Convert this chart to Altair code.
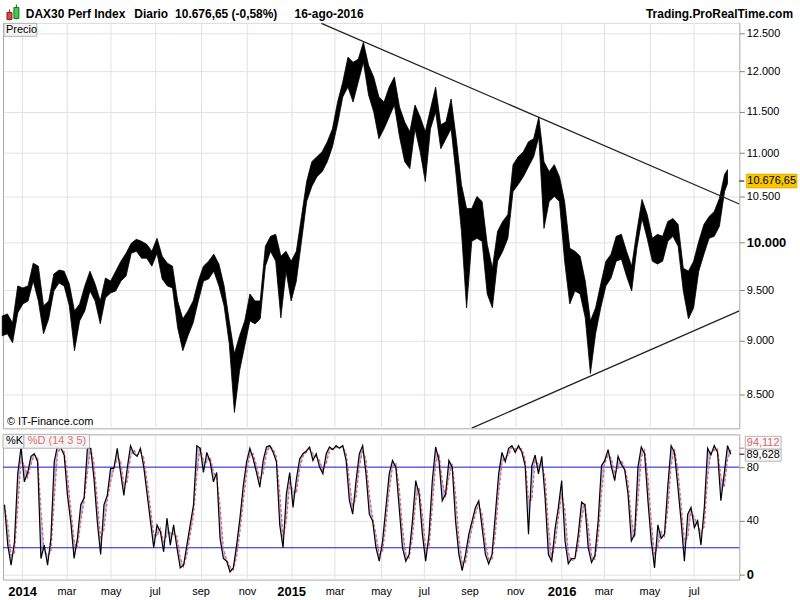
import altair as alt
import pandas as pd

# ---------------- data ----------------
week_dates = [d.strftime("%Y-%m-%dT00:00") for d in pd.date_range("2013-12-06", periods=141, freq="7D")] + ["2016-08-16T00:00"]

price_high = [
    9244, 9264, 9176, 9545, 9525, 9545, 9780, 9749, 9344, 9393,
    9667, 9708, 9697, 9565, 9294, 9363, 9545, 9697, 9565, 9393,
    9626, 9595, 9697, 9801, 9884, 9990, 10032, 10011, 9979, 9905,
    10043, 9853, 9780, 9749, 9393, 9215, 9294, 9393, 9595, 9749,
    9801, 9874, 9770, 9545, 9195, 8879, 9050, 9195, 9464, 9393,
    9393, 9958, 10064, 10086, 9853, 9905, 9801, 9905, 10280, 10670,
    10900, 10958, 11016, 11134, 11289, 11617, 11867, 12186, 12121, 12160,
    12382, 12082, 11930, 11680, 11617, 11804, 11930, 11555, 11373, 11253,
    11580, 11433, 11253, 11531, 11804, 11337, 11373, 11655, 11170, 10636,
    10368, 10368, 10502, 10446, 9979, 9728, 10118, 10226, 10302, 10865,
    10958, 11016, 11134, 11170, 11433, 10900, 10784, 10865, 10727, 10446,
    9937, 9905, 9853, 9595, 9195, 9324, 9565, 9801, 9874, 10064,
    10086, 9905, 9749, 10118, 10469, 10302, 10043, 10086, 10064, 10226,
    10258, 10193, 9728, 9697, 9801, 10011, 10193, 10280, 10335, 10480,
    10750, 10807,
]
price_low = [
    9050, 9069, 8983, 9274, 9363, 9393, 9595, 9393, 9069, 9215,
    9494, 9575, 9545, 9344, 8907, 9195, 9294, 9494, 9393, 9166,
    9424, 9474, 9494, 9595, 9646, 9884, 9905, 9832, 9832, 9749,
    9884, 9616, 9545, 9525, 9127, 8907, 9050, 9176, 9393, 9595,
    9616, 9697, 9545, 9344, 8973, 8339, 8719, 8954, 9195, 9166,
    9215, 9749, 9905, 9801, 9225, 9697, 9393, 9595, 10011, 10446,
    10614, 10727, 10784, 10900, 11075, 11349, 11680, 11804, 11617, 11867,
    12121, 11705, 11494, 11170, 11289, 11433, 11580, 11193, 10900, 10819,
    11289, 11016, 10670, 11289, 11494, 11051, 11170, 11289, 10727, 10118,
    9324, 10011, 10043, 10011, 9464, 9324, 9801, 9905, 10043, 10558,
    10636, 10727, 10842, 10958, 11193, 10150, 10446, 10502, 10446, 9801,
    9363, 9494, 9464, 9225, 8692, 9069, 9324, 9545, 9626, 9801,
    9822, 9646, 9494, 9937, 10258, 10043, 9801, 9770, 9801, 10011,
    10064, 9958, 9494, 9215, 9324, 9697, 9874, 10043, 10064, 10172,
    10558, 10648,
]

osc_dates = [d.strftime("%Y-%m-%dT%H:%M") for d in pd.date_range("2013-12-09", periods=220, freq="108h")]
stoch_k = [
    52, 22, 7, 24, 75, 95, 69, 76, 88, 90,
    84, 12, 22, 7, 27, 84, 96, 94, 89, 59,
    39, 12, 27, 52, 57, 94, 94, 71, 39, 15,
    52, 59, 79, 79, 94, 76, 59, 79, 96, 90,
    88, 94, 80, 60, 40, 20, 37, 32, 17, 42,
    22, 37, 20, 5, 7, 22, 37, 52, 96, 94,
    76, 91, 84, 69, 76, 27, 12, 10, 2, 5,
    22, 42, 66, 84, 94, 86, 76, 65, 85, 95,
    96, 91, 84, 37, 20, 60, 76, 50, 71, 86,
    90, 92, 95, 85, 90, 80, 75, 90, 95, 93,
    96, 94, 96, 85, 55, 45, 70, 90, 96, 75,
    45, 40, 20, 10, 25, 50, 75, 85, 80, 50,
    20, 10, 15, 40, 70, 60, 30, 10, 30, 70,
    95, 85, 55, 60, 85, 80, 40, 15, 3, 15,
    30, 40, 50, 55, 35, 15, 8, 15, 45, 75,
    91, 84, 94, 96, 91, 96, 91, 81, 30, 81,
    89, 75, 88, 57, 15, 10, 34, 50, 70, 25,
    8, 12, 12, 30, 54, 52, 20, 9, 14, 40,
    81, 85, 93, 80, 70, 88, 82, 78, 60, 25,
    30, 80, 95, 90, 55, 25, 5, 37, 27, 30,
    66, 96, 91, 66, 40, 10, 45, 50, 35, 40,
    22, 50, 94, 89, 96, 91, 55, 75, 96, 89.628,
]

last_close = 10676.65
last_close_label = "10.676,65"
last_k = 89.628
last_d = 94.112

trend_line = ["upper", "upper", "lower", "lower"]
trend_dates = ["2015-02-12T00:00", "2016-09-01T00:00", "2015-09-04T00:00", "2016-09-01T00:00"]
trend_price = [12635, 10418, 8200, 9294]

price_ticks = [8500, 9000, 9500, 10000, 10500, 11000, 11500, 12000, 12500]
osc_ticks = [0, 20, 40, 60, 80, 100]
osc_levels = [20, 80]
tick_days = [(2014, 1, 2), (2014, 3, 3), (2014, 5, 2), (2014, 7, 1), (2014, 9, 1), (2014, 11, 3),
             (2015, 1, 2), (2015, 3, 2), (2015, 5, 4), (2015, 7, 1), (2015, 9, 1), (2015, 11, 2),
             (2016, 1, 4), (2016, 3, 1), (2016, 5, 2), (2016, 7, 1)]

# ---------------- chart ----------------
FONT = "Liberation Sans"
GRID = "#e2e2e2"
W = 740
H_MAIN = 408
H_OSC = 146

month_ticks = [alt.DateTime(year=y, month=m, date=d) for (y, m, d) in tick_days]
x_scale = alt.Scale(domain=[alt.DateTime(year=2013, month=12, date=7), alt.DateTime(year=2016, month=9, date=1)])

price_df = pd.DataFrame({"date": week_dates, "high": price_high, "low": price_low})
trend_df = pd.DataFrame({"line": trend_line, "date": trend_dates, "price": trend_price})
osc_df = pd.DataFrame({"date": osc_dates, "k": stoch_k})


def text(txt, x, y, size=11, weight="normal", color="black", align="left"):
    return alt.Chart(pd.DataFrame({"t": [txt]})).mark_text(
        font=FONT, fontSize=size, fontWeight=weight, color=color, align=align, baseline="middle"
    ).encode(x=alt.value(x), y=alt.value(y), text="t:N")


def box(x1, x2, y1, y2, fill="#f4f4f4", stroke="#b4b4b4"):
    return alt.Chart(pd.DataFrame({"a": [0]})).mark_rect(fill=fill, stroke=stroke, strokeWidth=1).encode(
        x=alt.value(x1), x2=alt.value(x2), y=alt.value(y1), y2=alt.value(y2)
    )


y_scale = alt.Scale(type="log", domain=[8198, 12648], nice=False, zero=False)
y_axis = alt.Axis(
    orient="right", values=price_ticks, title=None, grid=True, gridColor=GRID,
    tickSize=5, tickColor="#808080", domain=False, labelPadding=2,
    labelFont=FONT, labelColor="black",
    labelFontSize={"condition": {"test": "datum.value == 10000", "value": 13}, "value": 11},
    labelFontWeight={"condition": {"test": "datum.value == 10000", "value": "bold"}, "value": "normal"},
    labelExpr="replace(format(datum.value, ','), ',', '.')",
)
x_axis_main = alt.Axis(values=month_ticks, grid=True, gridColor=GRID, labels=False, ticks=False,
                       domain=False, title=None)

header_bg = box(0, 800, -20, 0, fill="white", stroke="white")

area = alt.Chart(price_df).mark_area(color="black", stroke="black", strokeWidth=0.8,
                                     interpolate="linear").encode(
    x=alt.X("date:T", scale=x_scale, axis=x_axis_main),
    y=alt.Y("low:Q", scale=y_scale, axis=y_axis),
    y2="high:Q",
)

trend = alt.Chart(trend_df).mark_line(color="#222222", strokeWidth=1.3, clip=True).encode(
    x="date:T", y="price:Q", detail="line:N"
)

last_df = pd.DataFrame({"price": [last_close], "label": [last_close_label]})
last_box = alt.Chart(last_df).mark_point(
    shape="M-1,-0.275L1,-0.275L1,0.275L-1,0.275Z", size=2601, filled=True,
    fill="#f7c600", stroke="#c9a000", strokeWidth=0.6, opacity=1
).encode(x=alt.value(772.5), y="price:Q")
last_text = alt.Chart(last_df).mark_text(font=FONT, fontSize=11, color="black", align="center",
                                         baseline="middle").encode(
    x=alt.value(772.5), y="price:Q", text="label:N")
last_tick = alt.Chart(last_df).mark_rule(color="black").encode(
    x=alt.value(740), x2=alt.value(745), y="price:Q")

icon = [
    alt.Chart(pd.DataFrame({"a": [0]})).mark_rule(color="#7a1f1f").encode(
        x=alt.value(6.5), y=alt.value(-13), y2=alt.value(-2)),
    box(4, 9, -10, -3, fill="#e04848", stroke="#7a1f1f"),
    alt.Chart(pd.DataFrame({"a": [0]})).mark_rule(color="#1f6a1f").encode(
        x=alt.value(13.5), y=alt.value(-18), y2=alt.value(-3)),
    box(11, 16, -15, -4, fill="#3fd04a", stroke="#1f6a1f"),
]

main = alt.layer(
    header_bg,
    area,
    trend,
    last_box,
    last_text,
    last_tick,
    *icon,
    text("DAX30 Perf Index", 23, -8, 12, "bold"),
    text("Diario", 132, -8, 12, "bold"),
    text("10.676,65 (-0,58%)", 173, -8, 12, "bold"),
    text("16-ago-2016", 293, -8, 12, "bold"),
    text("Trading.ProRealTime.com", 794, -8, 12, "bold", align="right"),
    box(1, 34, 1, 14),
    text("Precio", 3, 8, 11),
    text("\u00a9 IT-Finance.com", 4, 402, 11),
).properties(width=W, height=H_MAIN)

# ---------------- oscillator ----------------
osc_x_axis = alt.Axis(
    values=month_ticks, grid=True, gridColor=GRID, ticks=False, domain=False, title=None,
    labelPadding=6, labelFont=FONT, labelColor="black",
    labelFontSize={"condition": {"test": "month(datum.value) == 0", "value": 13}, "value": 11},
    labelFontWeight={"condition": {"test": "month(datum.value) == 0", "value": "bold"}, "value": "normal"},
    labelExpr="month(datum.value) == 0 ? timeFormat(datum.value, '%Y') : "
              "['ene','feb','mar','abr','may','jun','jul','ago','sep','oct','nov','dic'][month(datum.value)]",
)
osc_y_scale = alt.Scale(domain=[-3.7, 104.4], nice=False, zero=False)
osc_y_axis = alt.Axis(
    orient="right", values=osc_ticks, title=None, grid=True, gridColor=GRID,
    tickSize=5, tickColor="#808080", domain=False, labelPadding=2,
    labelFont=FONT, labelColor="black",
    labelFontSize={"condition": {"test": "datum.value == 0", "value": 13}, "value": 11},
    labelFontWeight={"condition": {"test": "datum.value == 0", "value": "bold"}, "value": "normal"},
)

osc_base = alt.Chart(osc_df).transform_window(d="mean(k)", frame=[-1, 0])

fill_kd = osc_base.mark_area(color="#9ca4ec", opacity=0.75).encode(
    x=alt.X("date:T", scale=x_scale, axis=osc_x_axis),
    y=alt.Y("k:Q", scale=osc_y_scale, axis=osc_y_axis),
    y2="d:Q",
)
levels = alt.Chart(pd.DataFrame({"level": osc_levels})).mark_rule(color="#1a1ae0", strokeWidth=1).encode(
    y="level:Q")
d_line = osc_base.mark_line(color="#e86464", strokeDash=[3, 2], strokeWidth=1.3).encode(x="date:T", y="d:Q")
k_line = osc_base.mark_line(color="black", strokeWidth=1.2).encode(x="date:T", y="k:Q")

mk_df = pd.DataFrame({"v": [last_d, last_k], "c": ["d", "k"]})
mk_ticks = alt.Chart(mk_df).mark_rule().encode(
    x=alt.value(740), x2=alt.value(745), y="v:Q",
    color=alt.Color("c:N", scale=alt.Scale(domain=["d", "k"], range=["#e86464", "black"]), legend=None))

osc = alt.layer(
    fill_kd,
    levels,
    d_line,
    k_line,
    box(0, 21, 0, 14),
    text("%K", 3, 7, 11),
    box(21, 87, 0, 14),
    text("%D (14 3 5)", 25, 7, 11, color="#e07070"),
    box(746, 782, 2, 15, fill="#fafafa", stroke="#b4b4b4"),
    text("94,112", 764, 8.5, 11, color="#e06060", align="center"),
    box(746, 782, 15, 27, fill="#fafafa", stroke="#b4b4b4"),
    text("89,628", 764, 21, 11, align="center"),
    mk_ticks,
).properties(width=W, height=H_OSC)

chart = alt.vconcat(main, osc, spacing=4).properties(
    padding=0, background="white"
).configure_view(stroke="#a8a8a8", strokeWidth=1)

chart.save("out.html", embed_options={"renderer": "svg", "actions": False})
